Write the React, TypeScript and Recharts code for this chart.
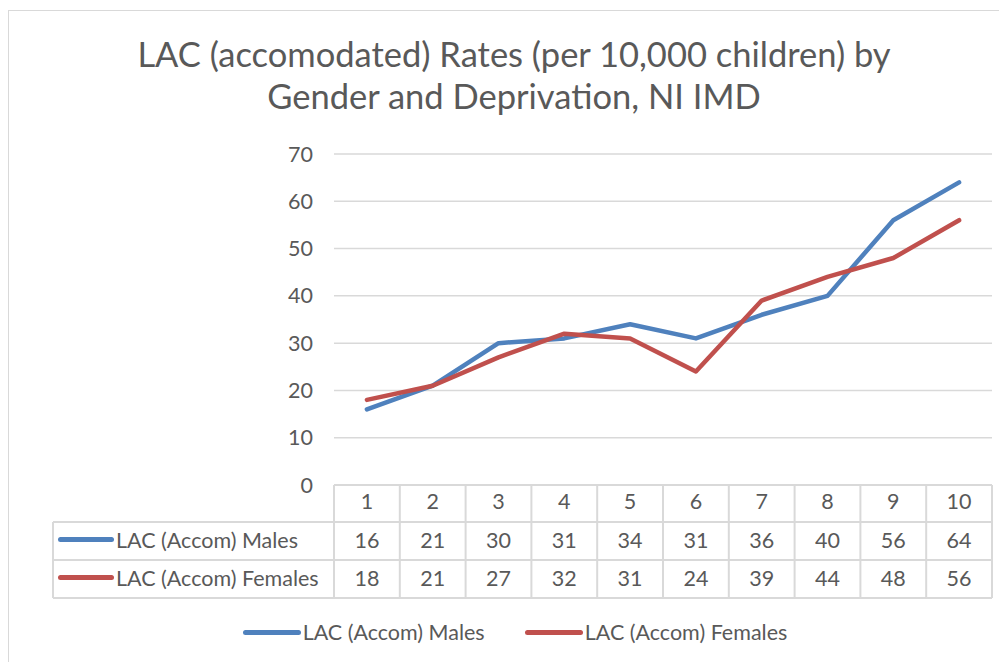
import React from 'react';
import { LineChart, Line, XAxis, YAxis, CartesianGrid } from 'recharts';

const categories = ['1', '2', '3', '4', '5', '6', '7', '8', '9', '10'];
const males = [16, 21, 30, 31, 34, 31, 36, 40, 56, 64];
const females = [18, 21, 27, 32, 31, 24, 39, 44, 48, 56];
const yTicks = [0, 10, 20, 30, 40, 50, 60, 70];

const series = [
  { key: 'males', name: 'LAC (Accom) Males', color: '#4f81bd', values: males },
  { key: 'females', name: 'LAC (Accom) Females', color: '#c0504d', values: females },
];

const data = categories.map((c, i) => ({ cat: c, males: males[i], females: females[i] }));

const FONT = 'Lato, "Open Sans", sans-serif';
const TEXT = '#595959';
const GRID = '#d9d9d9';
const FS = 21.5;

// layout (relative to the bordered box)
const CHART_W = 1000;
const CHART_H = 600;
const PLOT_LEFT = 325;
const PLOT_RIGHT = 983;
const PLOT_TOP = 143;
const PLOT_BOTTOM = 474;
const COL_W = (PLOT_RIGHT - PLOT_LEFT) / categories.length;
const ROW_H = [37, 38, 38];
const LABEL_LEFT = 44;

const LegendLine = ({ color, width }: { color: string; width: number }) => (
  <span
    style={{
      display: 'inline-block',
      width,
      height: 5,
      borderRadius: 3,
      background: color,
      verticalAlign: 'middle',
      marginRight: 2,
    }}
  />
);

const BottomLegend = () => (
  <div
    style={{
      position: 'absolute',
      top: 608,
      left: 0,
      width: 1010,
      display: 'flex',
      justifyContent: 'center',
      gap: 40,
      fontFamily: FONT,
      fontSize: FS,
      color: TEXT,
      paddingLeft: 2,
      boxSizing: 'border-box',
    }}
  >
    {series.map((s) => (
      <span key={s.key} style={{ display: 'flex', alignItems: 'center' }}>
        <LegendLine color={s.color} width={58} />
        {s.name}
      </span>
    ))}
  </div>
);

const cellBase: React.CSSProperties = {
  position: 'absolute',
  boxSizing: 'border-box',
  display: 'flex',
  alignItems: 'center',
  justifyContent: 'center',
  paddingBottom: 3,
  fontFamily: FONT,
  fontSize: FS,
  color: TEXT,
};

const DataTable = () => {
  const cells: React.ReactNode[] = [];
  const rowTop = [PLOT_BOTTOM, PLOT_BOTTOM + ROW_H[0], PLOT_BOTTOM + ROW_H[0] + ROW_H[1]];
  categories.forEach((c, i) => {
    cells.push(
      <div
        key={`h${i}`}
        style={{ ...cellBase, left: PLOT_LEFT + i * COL_W, top: rowTop[0], width: COL_W, height: ROW_H[0], paddingBottom: 6 }}
      >
        {c}
      </div>
    );
  });
  series.forEach((s, r) => {
    cells.push(
      <div
        key={`l${r}`}
        style={{
          ...cellBase,
          justifyContent: 'flex-start',
          left: LABEL_LEFT,
          top: rowTop[r + 1],
          width: PLOT_LEFT - LABEL_LEFT,
          height: ROW_H[r + 1],
          paddingLeft: 5,
        }}
      >
        <LegendLine color={s.color} width={56} />
        {s.name}
      </div>
    );
    s.values.forEach((v, i) => {
      cells.push(
        <div
          key={`c${r}-${i}`}
          style={{ ...cellBase, left: PLOT_LEFT + i * COL_W, top: rowTop[r + 1], width: COL_W, height: ROW_H[r + 1] }}
        >
          {v}
        </div>
      );
    });
  });
  const lines: React.ReactNode[] = [];
  const bottom = rowTop[2] + ROW_H[2];
  lines.push(<line key="t0" x1={PLOT_LEFT} x2={PLOT_RIGHT} y1={rowTop[0]} y2={rowTop[0]} />);
  lines.push(<line key="t1" x1={LABEL_LEFT} x2={PLOT_RIGHT} y1={rowTop[1]} y2={rowTop[1]} />);
  lines.push(<line key="t2" x1={LABEL_LEFT} x2={PLOT_RIGHT} y1={rowTop[2]} y2={rowTop[2]} />);
  lines.push(<line key="t3" x1={LABEL_LEFT} x2={PLOT_RIGHT} y1={bottom} y2={bottom} />);
  lines.push(<line key="vl" x1={LABEL_LEFT} x2={LABEL_LEFT} y1={rowTop[1]} y2={bottom} />);
  for (let i = 0; i <= categories.length; i++) {
    const x = PLOT_LEFT + i * COL_W;
    lines.push(<line key={`v${i}`} x1={x} x2={x} y1={rowTop[0]} y2={bottom} />);
  }
  return (
    <>
      <svg
        style={{ position: 'absolute', left: 0, top: 0, pointerEvents: 'none' }}
        width={CHART_W}
        height={CHART_H}
      >
        <g stroke={GRID} strokeWidth={2}>{lines}</g>
      </svg>
      {cells}
    </>
  );
};

export default function App() {
  return (
    <div
      style={{
        position: 'relative',
        marginTop: 2,
        width: 1012,
        height: 660,
        border: '1px solid #d9d9d9',
        background: '#fff',
        boxSizing: 'border-box',
        overflow: 'hidden',
      }}
    >
      <div
        style={{
          position: 'absolute',
          left: 0,
          width: 1010,
          top: 22,
          textAlign: 'center',
          fontFamily: FONT,
          fontSize: 34.5,
          lineHeight: '42px',
          color: TEXT,
        }}
      >
        LAC (accomodated) Rates (per 10,000 children) by
        <br />
        Gender and Deprivation, NI IMD
      </div>
      <div style={{ position: 'absolute', left: 0, top: 0 }}>
        <LineChart
          width={CHART_W}
          height={CHART_H}
          data={data}
          margin={{ top: PLOT_TOP, right: CHART_W - PLOT_RIGHT, bottom: CHART_H - PLOT_BOTTOM, left: PLOT_LEFT - 60 }}
        >
          <CartesianGrid vertical={false} stroke={GRID} strokeWidth={1.5} />
          <XAxis dataKey="cat" hide padding={{ left: COL_W / 2, right: COL_W / 2 }} />
          <YAxis
            width={60}
            domain={[0, 70]}
            ticks={yTicks}
            axisLine={false}
            tickLine={false}
            tickSize={0}
            tickMargin={21}
            tick={{ fill: TEXT, fontSize: FS, fontFamily: FONT }}
          />
          {series.map((s) => (
            <Line
              key={s.key}
              type="linear"
              dataKey={s.key}
              name={s.name}
              stroke={s.color}
              strokeWidth={4.5}
              strokeLinejoin="round"
              strokeLinecap="round"
              dot={false}
              activeDot={false}
              isAnimationActive={false}
            />
          ))}
        </LineChart>
      </div>
      <DataTable />
      <BottomLegend />
    </div>
  );
}
